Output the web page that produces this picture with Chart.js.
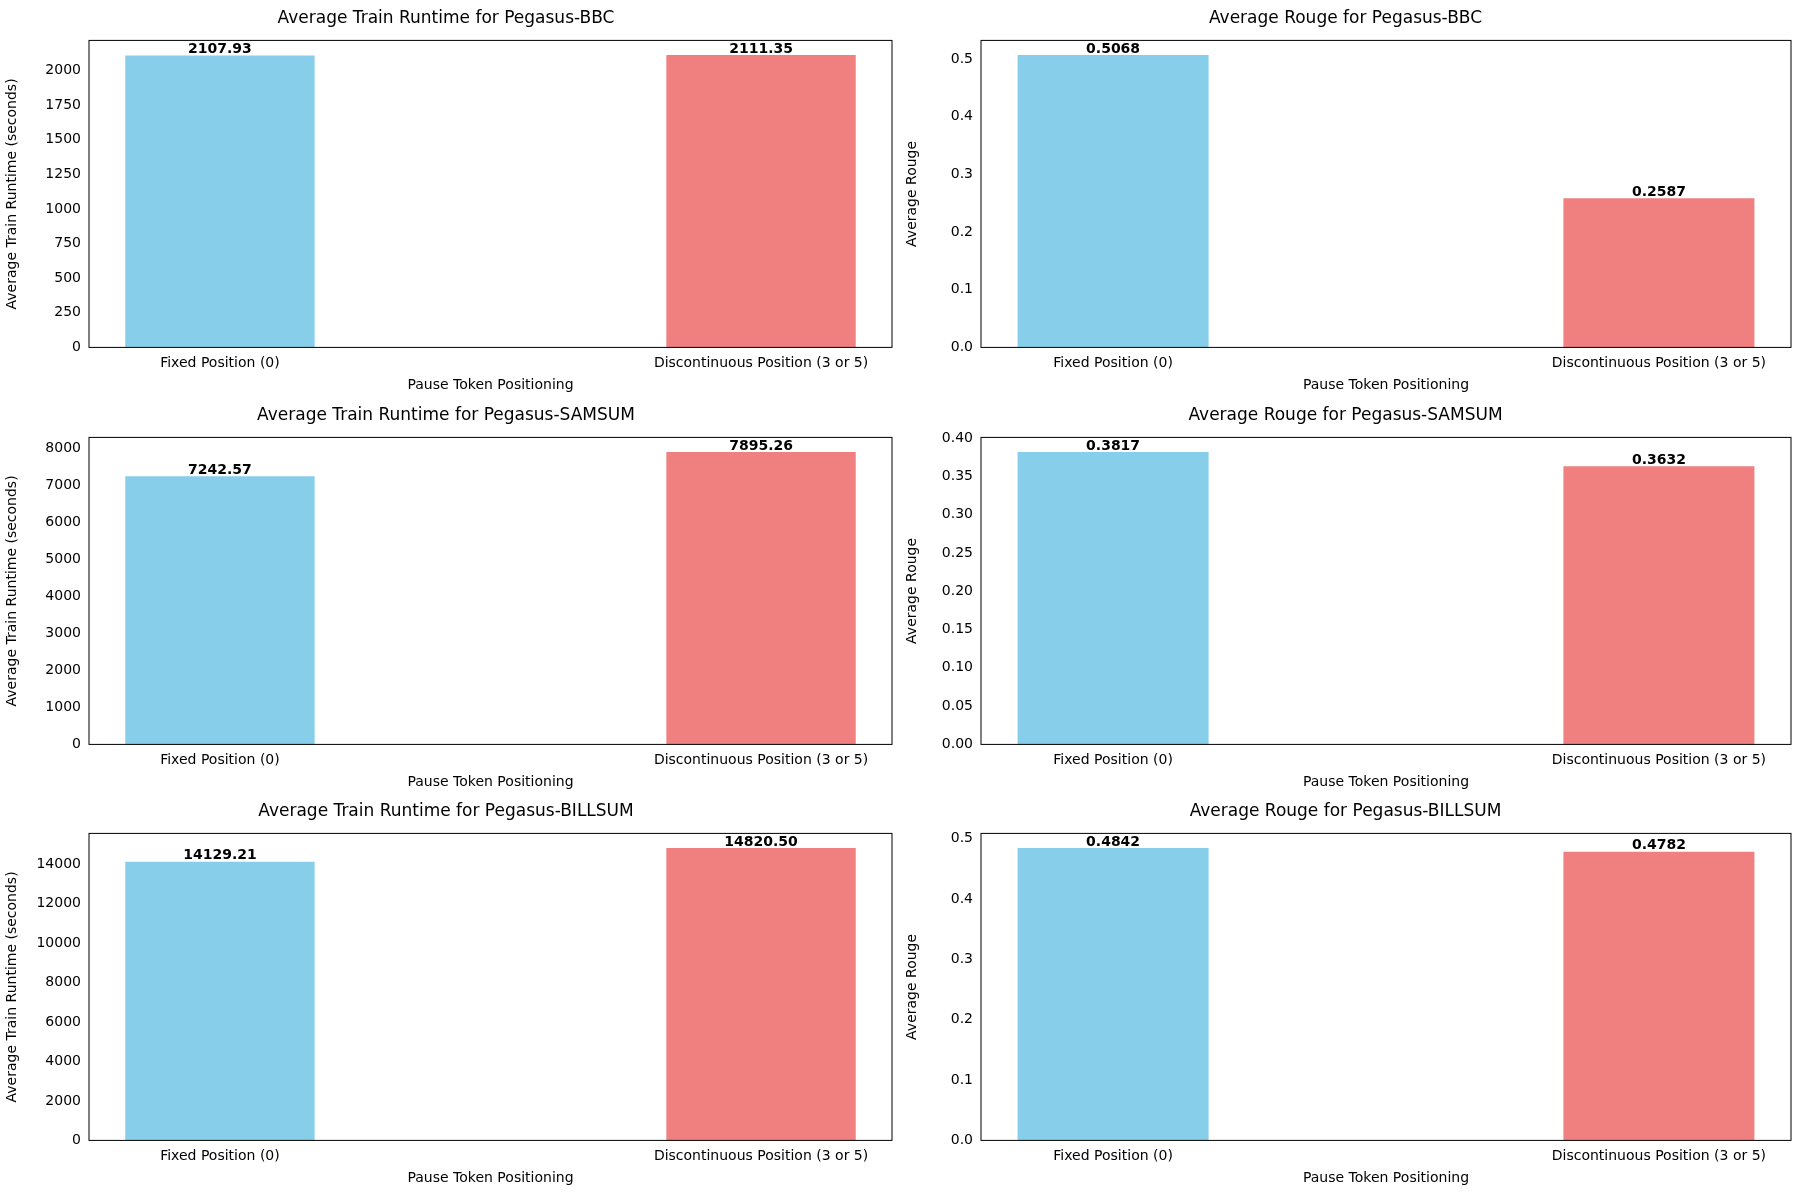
<!DOCTYPE html>
<html><head>
<script src="https://cdn.jsdelivr.net/npm/chart.js@4"></script>
<style>
body{margin:0;background:#fff;}
.cell{position:absolute;width:900px;height:400px;}
</style></head>
<body>
<div class="cell" style="left:0;top:0"><canvas id="c0" width="900" height="400"></canvas></div>
<div class="cell" style="left:900px;top:0"><canvas id="c1" width="900" height="400"></canvas></div>
<div class="cell" style="left:0;top:397px"><canvas id="c2" width="900" height="400"></canvas></div>
<div class="cell" style="left:900px;top:397px"><canvas id="c3" width="900" height="400"></canvas></div>
<div class="cell" style="left:0;top:793px"><canvas id="c4" width="900" height="400"></canvas></div>
<div class="cell" style="left:900px;top:793px"><canvas id="c5" width="900" height="400"></canvas></div>
<script>
const categories = ["Fixed Position (0)", "Discontinuous Position (3 or 5)"];
const runtimeBBC = [2107.93, 2111.35];
const runtimeSAMSUM = [7242.57, 7895.26];
const runtimeBILLSUM = [14129.21, 14820.50];
const rougeBBC = [0.5068, 0.2587];
const rougeSAMSUM = [0.3817, 0.3632];
const rougeBILLSUM = [0.4842, 0.4782];
const colors = ["#87CEEB", "#F08080"];
const F = "'DejaVu Sans', sans-serif";

const panels = [
  {id:"c0", vals:runtimeBBC, kind:"Train Runtime", ds:"BBC", step:250, tickDec:0, labDec:2},
  {id:"c1", vals:rougeBBC, kind:"Rouge", ds:"BBC", step:0.1, tickDec:1, labDec:4},
  {id:"c2", vals:runtimeSAMSUM, kind:"Train Runtime", ds:"SAMSUM", step:1000, tickDec:0, labDec:2},
  {id:"c3", vals:rougeSAMSUM, kind:"Rouge", ds:"SAMSUM", step:0.05, tickDec:2, labDec:4},
  {id:"c4", vals:runtimeBILLSUM, kind:"Train Runtime", ds:"BILLSUM", step:2000, tickDec:0, labDec:2},
  {id:"c5", vals:rougeBILLSUM, kind:"Rouge", ds:"BILLSUM", step:0.1, tickDec:1, labDec:4},
];

const frame = {
  id: "frame",
  afterDraw(chart, args, opts) {
    const {ctx, chartArea: a} = chart;
    ctx.save();
    ctx.strokeStyle = "#000"; ctx.lineWidth = 1;
    ctx.strokeRect(a.left, a.top, a.right - a.left, a.bottom - a.top);
    const meta = chart.getDatasetMeta(0);
    ctx.font = "bold 14px " + F; ctx.fillStyle = "#000";
    ctx.textAlign = "center"; ctx.textBaseline = "bottom";
    meta.data.forEach((b, i) => {
      ctx.fillText(chart.data.datasets[0].data[i].y.toFixed(opts.dec), b.x, b.y + 1);
    });
    ctx.restore();
  }
};

panels.forEach((p, idx) => {
  const left = idx % 2 === 0;
  const ylab = p.kind === "Rouge" ? "Average Rouge" : "Average Train Runtime (seconds)";
  const ymax = Math.max(...p.vals) * 1.05;
  new Chart(document.getElementById(p.id), {
    type: "bar",
    data: {
      datasets: [{
        data: p.vals.map((v, i) => ({x: i, y: v})),
        backgroundColor: colors,
        barPercentage: 0.35,
        categoryPercentage: 1,
      }],
    },
    options: {
      responsive: false, animation: false,
      layout: {padding: {right: left ? 8 : 9, top: 0, bottom: 2}},
      scales: {
        x: {
          type: "linear", min: -0.242, max: 1.242, offset: false,
          grid: {display: false, drawTicks: true, tickLength: 5, color: "#000"},
          border: {display: false},
          afterBuildTicks: s => { s.ticks = [{value: 0}, {value: 1}]; },
          ticks: {color: "#000", font: {family: F, size: 14}, callback: v => categories[v], maxRotation: 0, autoSkip: false},
          title: {display: true, text: "Pause Token Positioning", color: "#000", font: {family: F, size: 14}, padding: {top: 2}},
        },
        y: {
          min: 0, max: ymax,
          grid: {display: false, drawTicks: true, tickLength: 5},
          border: {display: false},
          afterFit: s => { s.width = left ? 89 : 81; },
          afterBuildTicks: s => {
            const t = [];
            for (let k = 0; k * p.step <= ymax + 1e-9; k++) t.push({value: k * p.step});
            s.ticks = t;
          },
          ticks: {color: "#000", font: {family: F, size: 14}, autoSkip: false, callback: v => Number(v).toFixed(p.tickDec)},
          title: {display: true, text: ylab, color: "#000", font: {family: F, size: 14}},
        },
      },
      plugins: {
        legend: {display: false},
        tooltip: {enabled: false},
        title: {display: true, text: "Average " + p.kind + " for Pegasus-" + p.ds, color: "#000", font: {family: F, size: 17, weight: "normal"}, padding: {top: 8, bottom: 12}},
        frame: {dec: p.labDec},
      },
    },
    plugins: [frame],
  });
});
</script>
</body></html>
